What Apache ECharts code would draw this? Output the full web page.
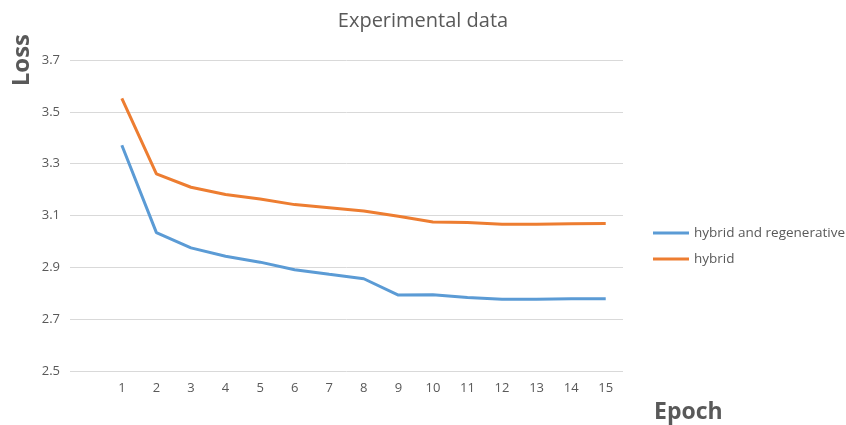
<!DOCTYPE html>
<html><head><meta charset="utf-8">
<script src="https://cdn.jsdelivr.net/npm/echarts@6/dist/echarts.min.js"></script>
<style>html,body{margin:0;padding:0;background:#fff}#c{width:846px;height:425px}</style>
</head><body><div id="c"></div>
<script>
const categories = ['', '1','2','3','4','5','6','7','8','9','10','11','12','13','14','15'];
const hybridRegen = [null, 3.371, 3.034, 2.975, 2.943, 2.920, 2.891, 2.873, 2.856, 2.793, 2.794, 2.784, 2.777, 2.777, 2.779, 2.779];
const hybrid = [null, 3.552, 3.261, 3.209, 3.181, 3.164, 3.142, 3.130, 3.117, 3.097, 3.075, 3.073, 3.066, 3.066, 3.068, 3.069];
const seriesNames = ['hybrid and regenerative', 'hybrid'];
const chart = echarts.init(document.getElementById('c'));
const font = '"Open Sans", "Liberation Sans", sans-serif';
chart.setOption({
  animation: false,
  title: { text: 'Experimental data', left: 'center', top: 6,
    textStyle: { fontFamily: font, fontSize: 20, fontWeight: 'normal', color: '#595959' } },
  legend: { orient: 'vertical', left: 648, top: 221, itemWidth: 36, itemHeight: 3, itemGap: 12,
    icon: 'rect', textStyle: { fontFamily: font, fontSize: 13.5, color: '#595959' },
    data: seriesNames },
  grid: { left: 70, right: 223, top: 60, bottom: 54 },
  xAxis: { type: 'category', data: categories, boundaryGap: true,
    axisLine: { show: false }, axisTick: { show: false },
    axisLabel: { fontFamily: font, fontSize: 13, color: '#595959', margin: 11, interval: 0 },
    splitLine: { show: false } },
  yAxis: { type: 'value', min: 2.5, max: 3.7, interval: 0.2,
    axisLine: { show: false }, axisTick: { show: false },
    axisLabel: { fontFamily: font, fontSize: 13, color: '#595959', margin: 10,
      formatter: v => v.toFixed(1) },
    splitLine: { lineStyle: { color: '#d9d9d9', width: 1 } } },
  graphic: [
    { type: 'text', left: 10, top: 34, rotation: Math.PI / 2,
      style: { text: 'Loss', fontFamily: font, fontSize: 24, fontWeight: 'bold', fill: '#595959' } },
    { type: 'text', left: 654, top: 401,
      style: { text: 'Epoch', fontFamily: font, fontSize: 23, fontWeight: 'bold', fill: '#595959' } }
  ],
  series: [
    { name: seriesNames[0], type: 'line', data: hybridRegen, showSymbol: false, symbol: 'none',
      lineStyle: { color: '#5b9bd5', width: 3 }, itemStyle: { color: '#5b9bd5' } },
    { name: seriesNames[1], type: 'line', data: hybrid, showSymbol: false, symbol: 'none',
      lineStyle: { color: '#ed7d31', width: 3 }, itemStyle: { color: '#ed7d31' } }
  ]
});
</script></body></html>
